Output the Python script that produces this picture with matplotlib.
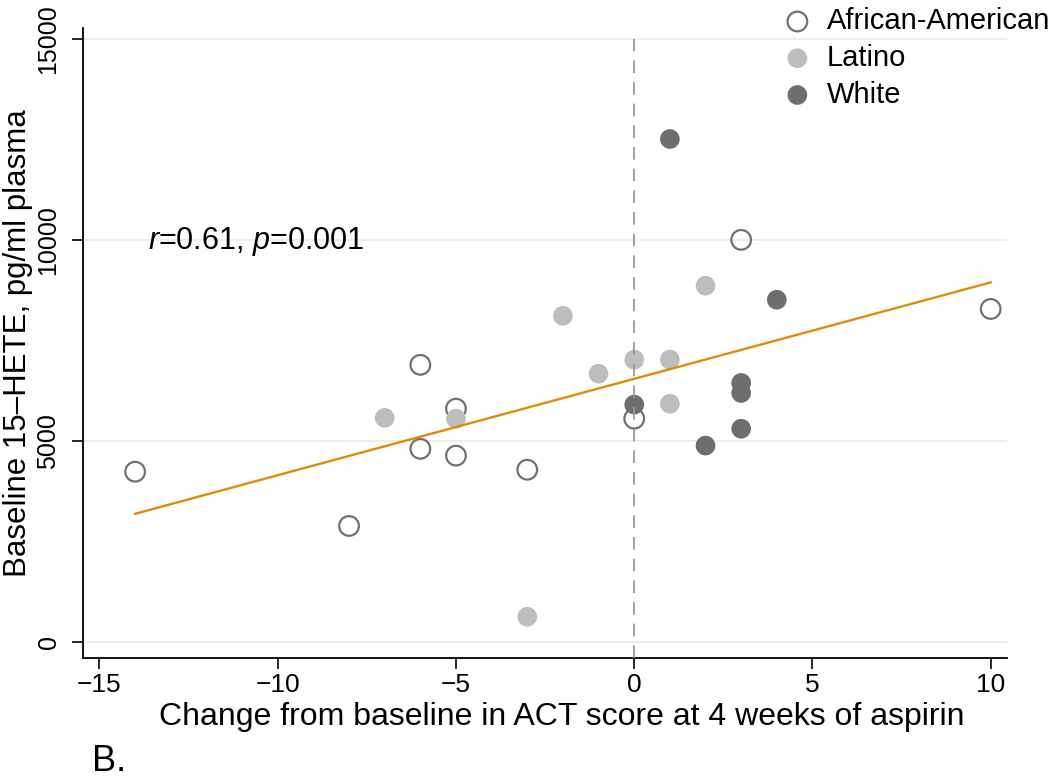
import matplotlib.pyplot as plt
import numpy as np

plt.rcParams['font.family'] = ['Liberation Sans', 'DejaVu Sans']
plt.rcParams['mathtext.fontset'] = 'custom'
plt.rcParams['mathtext.it'] = 'Liberation Sans:italic'
plt.rcParams['mathtext.rm'] = 'Liberation Sans'

# ACT score change vs baseline 15-HETE, by group
aa_x = [-14, -8, -6, -6, -5, -5, -3, 0, 3, 10]
aa_y = [4230, 2880, 6890, 4800, 5800, 4630, 4280, 5550, 10000, 8280]

lat_x = [-7, -5, -3, -2, -1, 0, 1, 1, 2]
lat_y = [5570, 5550, 620, 8110, 6670, 7020, 7020, 5920, 8860]

wh_x = [0, 1, 2, 3, 3, 3, 4]
wh_y = [5900, 12510, 4880, 6440, 6190, 5300, 8510]

x_ticks = [-15, -10, -5, 0, 5, 10]
y_ticks = [0, 5000, 10000, 15000]

fig = plt.figure(figsize=(10.5, 7.84), dpi=100)
ax = fig.add_axes([0.0788, 0.161, 0.880, 0.803])

for yt in y_ticks:
    ax.axhline(yt, color='#e4efed', lw=1.3, zorder=0)

ms = 200
ax.scatter(aa_x, aa_y, s=ms, facecolors='none', edgecolors='#707070',
           linewidths=1.6, label='African-American', zorder=2)
ax.scatter(lat_x, lat_y, s=ms, color='#bdbdbd', edgecolors='none',
           label='Latino', zorder=3)
ax.scatter(wh_x, wh_y, s=ms, color='#6e6e6e', edgecolors='none',
           label='White', zorder=4)

# linear fit over all points
all_x = np.array(aa_x + lat_x + wh_x, dtype=float)
all_y = np.array(aa_y + lat_y + wh_y, dtype=float)
b1, b0 = np.polyfit(all_x, all_y, 1)
xs = np.array([all_x.min(), all_x.max()])
ax.plot(xs, b0 + b1 * xs, color='#e08a0c', lw=1.7, zorder=5)

ax.vlines(0, -400, 15000, colors='#9a9a9a', linestyles=(0, (7, 5)), lw=1.3, zorder=6)

ax.text(-13.65, 9950, r'$\it{r}$=0.61, $\it{p}$=0.001', fontsize=22, va='center')

ax.set_xlim(-15.47, 10.45)
ax.set_ylim(-400, 15266)
ax.set_xticks(x_ticks)
ax.set_xticklabels(['\u221215', '\u221210', '\u22125', '0', '5', '10'])
ax.set_yticks(y_ticks)
ax.set_yticklabels([str(v) for v in y_ticks], rotation=90, va='center')
ax.tick_params(axis='both', labelsize=18, length=8, width=1.2, direction='out')
ax.tick_params(axis='x', labelsize=19, pad=3)
ax.tick_params(axis='y', pad=8)
ax.spines['top'].set_visible(False)
ax.spines['right'].set_visible(False)
ax.spines['left'].set_linewidth(1.3)
ax.spines['bottom'].set_linewidth(1.3)

ax.set_xlabel('Change from baseline in ACT score at 4 weeks of aspirin', fontsize=23)
ax.xaxis.set_label_coords(0.518, -0.07)
ax.set_ylabel('Baseline 15\u2013HETE, pg/ml plasma', fontsize=22.5)
ax.yaxis.set_label_coords(-0.054, 0.5)

leg = ax.legend(loc='upper left', bbox_to_anchor=(0.745, 1.052), frameon=False,
                fontsize=21, handletextpad=0.5, labelspacing=0.3,
                borderaxespad=0, handlelength=1.0)

fig.text(0.088, 0.016, 'B.', fontsize=26)

fig.savefig('out.png', dpi=100)
